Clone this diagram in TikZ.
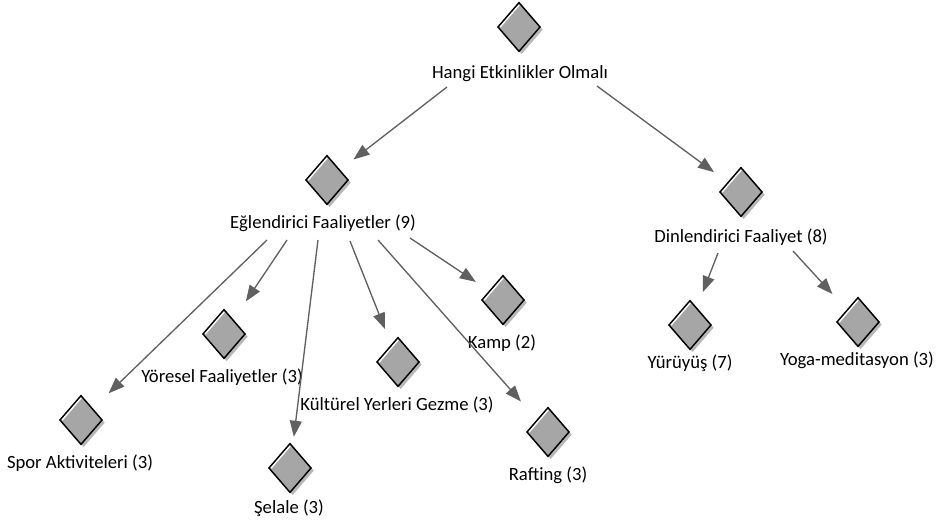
\documentclass[tikz,border=0pt]{standalone}
\usepackage{fontspec}
\setmainfont{Carlito}
\usetikzlibrary{shapes.geometric,shadows,arrows.meta}
\definecolor{dfill}{HTML}{A6A6A6}
\definecolor{edgegray}{HTML}{606060}
\tikzset{
  choice/.style={diamond, draw=black, line width=1.1pt, fill=dfill,
    minimum width=32pt, minimum height=37pt, inner sep=0pt,
    drop shadow={shadow xshift=2pt, shadow yshift=-2pt, fill=black!28, opacity=1},
    path picture={\draw[white, line width=1.4pt]
      ([xshift=1.4pt]path picture bounding box.west) --
      ([yshift=-1.6pt]path picture bounding box.north);}},
  lbl/.style={font=\fontsize{14}{16}\selectfont, inner sep=0pt, anchor=base},
  link/.style={draw=edgegray, line width=1pt, -{Triangle[length=12pt,width=9pt]}}
}
\begin{document}
\begin{tikzpicture}[x=0.75pt,y=-0.75pt]
\useasboundingbox (0,0) rectangle (936,526);

% root
\node[choice] (d0) at (519,27) {};
\node[lbl] (l0) at (520,78) {Hangi Etkinlikler Olmalı};

% second level
\node[choice] (d1) at (327,180) {};
\node[lbl] (l1) at (323,228) {Eğlendirici Faaliyetler (9)};
\node[choice] (d2) at (741,192) {};
\node[lbl] (l2) at (741,242) {Dinlendirici Faaliyet (8)};

% leaves
\node[choice] (d3) at (81,420) {};
\node[lbl] (l3) at (80,468) {Spor Aktiviteleri (3)};
\node[choice] (d4) at (224,334) {};
\node[lbl] (l4) at (222,382) {Yöresel Faaliyetler (3)};
\node[choice] (d5) at (290,468) {};
\node[lbl] (l5) at (289,513) {Şelale (3)};
\node[choice] (d6) at (398,362) {};
\node[lbl] (l6) at (397,410) {Kültürel Yerleri Gezme (3)};
\node[choice] (d7) at (548,432) {};
\node[lbl] (l7) at (548,480) {Rafting (3)};
\node[choice] (d8) at (503,300) {};
\node[lbl] (l8) at (502,348) {Kamp (2)};
\node[choice] (d9) at (690,325) {};
\node[lbl] (l9) at (690,368) {Yürüyüş (7)};
\node[choice] (d10) at (858,322) {};
\node[lbl] (l10) at (857,365) {Yoga-meditasyon (3)};

% connectors
\draw[link, shorten >=12.6pt] ([shift={(-73,9)}]l0.base) -- (d1);
\draw[link, shorten >=12.6pt] ([shift={(77,8)}]l0.base) -- (d2);
\draw[link, shorten >=16.3pt] ([shift={(-56,12)}]l1.base) -- (d3);
\draw[link, shorten >=16.5pt] ([shift={(-36,12)}]l1.base) -- (d4);
\draw[link, shorten >=6.8pt] ([shift={(-5,12)}]l1.base) -- (d5);
\draw[link, shorten >=12.6pt] ([shift={(27,13)}]l1.base) -- (d6);
\draw[link, shorten >=18pt] ([shift={(55,12)}]l1.base) -- (d7);
\draw[link, shorten >=11.9pt] ([shift={(87,10)}]l1.base) -- (d8);
\draw[link, shorten >=12.3pt] ([shift={(-23,11)}]l2.base) -- (d9);
\draw[link, shorten >=15.8pt] ([shift={(52,9)}]l2.base) -- (d10);
\end{tikzpicture}
\end{document}
